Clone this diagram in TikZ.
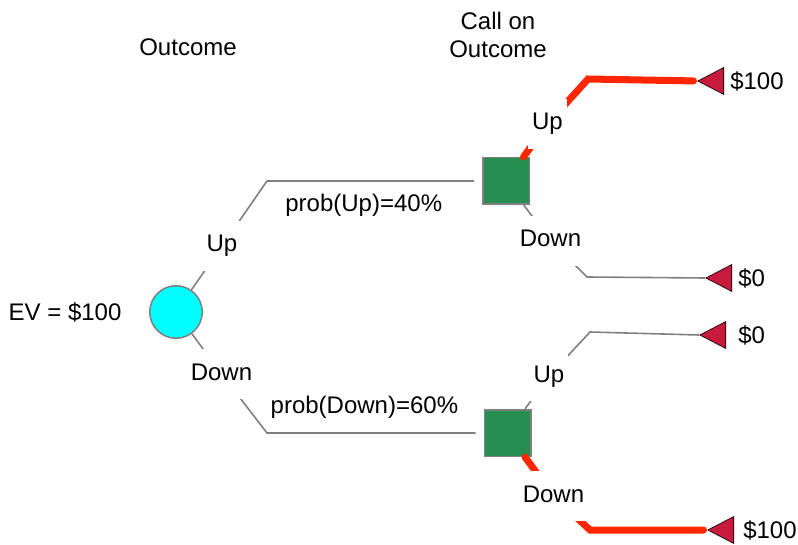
\documentclass[tikz,border=0pt]{standalone}
\usepackage{fontspec}
\setmainfont{Liberation Sans}
\usetikzlibrary{positioning, shapes.geometric}

\definecolor{evcyan}{RGB}{0,255,255}
\definecolor{decgreen}{RGB}{38,142,80}
\definecolor{payred}{RGB}{200,26,60}
\definecolor{winred}{RGB}{255,38,0}
\definecolor{linegray}{RGB}{128,128,128}

\begin{document}
\begin{tikzpicture}[x=1pt,y=-1pt,
	every node/.style={font=\fontsize{24}{28}\selectfont},
	chance/.style={circle, draw=linegray, line width=1.5pt, fill=evcyan,
		minimum size=52.5pt, inner sep=0},
	decision/.style={rectangle, draw=linegray, line width=1.5pt, fill=decgreen,
		minimum size=46.5pt, inner sep=0},
	payoff/.style={isosceles triangle, isosceles triangle stretches,
		shape border rotate=180, draw=black, line width=0.6pt, fill=payred,
		minimum width=27pt, minimum height=26pt, inner sep=0, anchor=apex},
	value/.style={inner sep=2pt},
	branch/.style={draw=linegray, line width=1.6pt},
	win/.style={draw=winred, line width=7pt, line cap=round, shorten >=3.5pt},
	choice/.style={fill=white, text height=17pt, text depth=5pt,
		inner xsep=4pt, inner ysep=14pt},
	prob/.style={inner sep=3pt, text height=17pt, text depth=5pt}]
	\useasboundingbox (0,0) rectangle (798,545);

	% chance node and the two call decisions
	\node[chance] (ev) at (176,312) {};
	\node[decision] (sqA) at (506,181) {};
	\node[decision] (sqB) at (507.5,433) {};

	% payoffs
	\node[payoff, label={[value, label distance=4pt]0:\$100}] (tAU) at (697,81) {};
	\node[payoff, label={[value, label distance=4pt]0:\$0}] (tAD) at (705,278) {};
	\node[payoff, label={[value, label distance=10pt]0:\$0}] (tBU) at (699,335) {};
	\node[payoff, label={[value, label distance=7pt]0:\$100}] (tBD) at (707,530) {};

	% bends of the branches
	\coordinate (bUL) at (267,181);
	\coordinate (bDL) at (267,433);
	\coordinate (bAU) at (588,79);
	\coordinate (bAD) at (587,277);
	\coordinate (bBU) at (590,332);
	\coordinate (bBD) at (590,530);

	% where the branch names go
	\coordinate (pUL) at (222,246);
	\coordinate (pDL) at (221.5,374);
	\coordinate (pAU) at (547.5,124);
	\coordinate (pAD) at (550.5,241);
	\coordinate (pBU) at (549,376);
	\coordinate (pBD) at (553.5,496);

	\draw[branch, shorten >=8pt] (ev) -- (pUL) -- (bUL)
		-- node[prob, below=10pt, pos=.45] {prob(Up)=40\%} (sqA);
	\draw[branch, shorten >=8pt] (ev) -- (pDL) -- (bDL)
		-- node[prob, above=11pt, pos=.45] {prob(Down)=60\%} (sqB);
	\draw[win] (sqA) -- (pAU) -- (bAU) -- (tAU.apex);
	\draw[branch] (sqA) -- (pAD) -- (bAD) -- (tAD.apex);
	\draw[branch] (sqB) -- (pBU) -- (bBU) -- (tBU.apex);
	\draw[win] (sqB) -- (pBD) -- (bBD) -- (tBD.apex);

	\node[choice] (upL) at (pUL) {Up};
	\node[choice] (dnL) at (pDL) {Down};
	\node[choice] (upA) at (pAU) {Up};
	\node[choice] (dnA) at (pAD) {Down};
	\node[choice] (upB) at (pBU) {Up};
	\node[choice] (dnB) at (pBD) {Down};

	\node[left=24pt of ev] (evlbl) {EV = \$100};
	\node (hdrOut) at (188,47.5) {Outcome};
	\node[align=center] (hdrCall) at (498,34.5) {Call on\\Outcome};
\end{tikzpicture}
\end{document}
